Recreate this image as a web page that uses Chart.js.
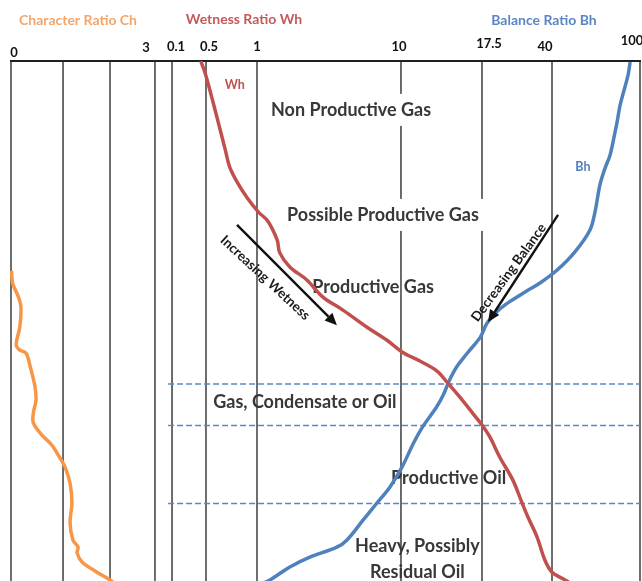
<!DOCTYPE html>
<html>
<head>
<meta charset="utf-8">
<script src="https://cdn.jsdelivr.net/npm/chart.js@4.4.1/dist/chart.umd.min.js"></script>
<style>
  html, body { margin: 0; padding: 0; background: #ffffff; }
  canvas { display: block; }
</style>
</head>
<body>
<canvas id="ratios" width="642" height="581"></canvas>
<script>
// ---- Track scales -------------------------------------------------------
// Character ratio (Ch) guide values and the labels printed above them
const chTicks = [0, 1, 2, 3];
const chTickLabels = ['0', '', '', '3'];
// Wetness (Wh) and balance (Bh) ratios share one logarithmic-style track
const ratioTicks = [0.1, 0.5, 1, 10, 17.5, 40, 100];
const ratioTickLabels = ['0.1', '0.5', '1', '10', '17.5', '40', '100'];

// ---- Log curves (depth 0 = top of interval, 100 = bottom) ---------------
const chDepth  = [40.3, 42.7, 45.3, 47.3, 51.1, 54.6, 55.6, 56.2, 58.8, 62.6, 65.2, 67.7, 69.6, 71.9,
                  73.8, 76.3, 78.0, 81.2, 85.0, 88.8, 92.1, 93.5, 94.6, 96.3, 98.3, 99.8, 101];
const chValues = [0.01, 0.03, 0.14, 0.19, 0.17, 0.10, 0.17, 0.29, 0.37, 0.46, 0.48, 0.43, 0.43, 0.59,
                  0.78, 0.94, 1.04, 1.15, 1.19, 1.15, 1.21, 1.32, 1.30, 1.40, 1.72, 2.0, 2.17];

const whDepth  = [0, 2.3, 6.9, 10.8, 17.1, 20.4, 23.5, 26.2, 29.0, 30.8, 34.4, 36.9, 39.6, 42.1, 45.4,
                  47.9, 51.2, 53.7, 56.0, 57.7, 59.6, 61.9, 64.6, 67.7, 70.0, 72.3, 76.2, 80.6, 85.0,
                  87.7, 91.5, 96.0, 98.3, 99.8, 101];
const whValues = [0.39, 0.48, 0.54, 0.58, 0.65, 0.69, 0.77, 0.87, 1.02, 1.19, 1.38, 1.44, 1.69, 2.22, 2.87,
                  3.95, 5.81, 8.0, 10.1, 11.4, 12.8, 13.8, 15.0, 16.4, 17.5, 19.2, 21.6, 25.2, 28.1,
                  30.1, 33.5, 36.8, 40, 45.8, 50.8];

const bhDepth  = [0.2, 2.7, 8.5, 11.7, 13.7, 18.1, 20.6, 23.8, 29.0, 32.5, 36.7, 40.2, 42.7, 44.2, 46.0,
                  47.7, 50.4, 53.1, 56.2, 58.8, 61.3, 64.2, 66.5, 70.4, 73.5, 78.1, 81.9, 85.0, 88.3,
                  92.1, 93.5, 95.4, 97.3, 99.8, 100.8];
const bhValues = [90.2, 88.3, 81.3, 78.8, 77.1, 73.2, 69.5, 65.9, 62.6, 59.4, 50.8, 42.2, 34.7, 29.8, 24.9,
                  21.6, 18.6, 17.3, 15.8, 14.7, 14.0, 13.4, 12.8, 11.6, 10.9, 10.07, 8.39, 6.81, 5.45,
                  4.22, 3.59, 2.33, 1.69, 1.23, 1.02];

// Depths of the fluid-zone boundaries (dashed)
const zoneBounds = [62.1, 70.1, 85.1];

// ---- A scale whose guide values sit at chosen fractions of the track ----
class KnotScale extends Chart.Scale {
  determineDataLimits() {
    const k = this.options.knots;
    this.min = k[0].v;
    this.max = k[k.length - 1].v;
  }
  buildTicks() { return this.options.knots.map(k => ({ value: k.v })); }
  getLabelForValue(v) { return String(v); }
  unit(v) { return this.options.log ? Math.log10(v) : v; }
  getPixelForValue(v) {
    const k = this.options.knots, u = this.unit(v);
    let i = 0;
    while (i < k.length - 2 && u > this.unit(k[i + 1].v)) i++;
    const a = k[i], b = k[i + 1];
    const t = (u - this.unit(a.v)) / (this.unit(b.v) - this.unit(a.v));
    return this.getPixelForDecimal(a.at + t * (b.at - a.at));
  }
  getPixelForTick(i) { return this.getPixelForValue(this.ticks[i].value); }
  getValueForPixel(p) {
    const k = this.options.knots, d = this.getDecimalForPixel(p);
    let i = 0;
    while (i < k.length - 2 && d > k[i + 1].at) i++;
    const a = k[i], b = k[i + 1];
    const u = this.unit(a.v) + (d - a.at) / (b.at - a.at) * (this.unit(b.v) - this.unit(a.v));
    return this.options.log ? Math.pow(10, u) : u;
  }
}
KnotScale.id = 'knot';
KnotScale.defaults = {};
Chart.register(KnotScale);

const FONT = 'Lato, "Open Sans", "DejaVu Sans", sans-serif';
const ORANGE = '#f79646', RED = '#c0504d', BLUE = '#4f81bd';

// ---- Guides, labels and annotations ----------------------------------
function arrow(ctx, x1, y1, x2, y2) {
  const ang = Math.atan2(y2 - y1, x2 - x1), head = 12, half = 5.5;
  const bx = x2 - head * Math.cos(ang), by = y2 - head * Math.sin(ang);
  ctx.beginPath(); ctx.moveTo(x1, y1); ctx.lineTo(bx, by); ctx.stroke();
  ctx.beginPath();
  ctx.moveTo(x2, y2);
  ctx.lineTo(bx + half * Math.sin(ang), by - half * Math.cos(ang));
  ctx.lineTo(bx - half * Math.sin(ang), by + half * Math.cos(ang));
  ctx.closePath(); ctx.fill();
}

const trackPlugin = {
  id: 'tracks',
  beforeDatasetsDraw(chart, args, o) {
    const { ctx, chartArea: a, scales } = chart;
    const xr = scales.ratio, xc = scales.ch, y = scales.depth;
    ctx.save();

    // vertical guides
    ctx.strokeStyle = '#1f1f1f';
    ctx.lineWidth = 1.3;
    [[xc, chTicks], [xr, ratioTicks]].forEach(([s, vals]) => {
      vals.forEach(v => {
        const px = s.getPixelForValue(v);
        ctx.beginPath(); ctx.moveTo(px, a.top); ctx.lineTo(px, a.bottom); ctx.stroke();
      });
    });
    // top border
    ctx.lineWidth = 2;
    ctx.beginPath(); ctx.moveTo(a.left - 1, a.top); ctx.lineTo(a.right + 1, a.top); ctx.stroke();

    // tick labels
    ctx.fillStyle = '#111';
    ctx.font = 'bold 13px ' + FONT;
    ctx.textAlign = 'center';
    ctx.textBaseline = 'middle';
    chTicks.forEach((v, i) => {
      const [dx, dy] = o.chShift[i];
      ctx.fillText(chTickLabels[i], xc.getPixelForValue(v) + dx, o.tickY + dy);
    });
    ratioTicks.forEach((v, i) => {
      const [dx, dy] = o.ratioShift[i];
      ctx.fillText(ratioTickLabels[i], xr.getPixelForValue(v) + dx, o.tickY + dy);
    });

    // track titles
    ctx.font = 'bold 14px ' + FONT;
    o.titles.forEach(t => { ctx.fillStyle = t.color; ctx.fillText(t.text, t.x, t.y); });

    // zone names
    ctx.font = 'bold 18px ' + FONT;
    o.zones.forEach(z => {
      const cx = xr.getPixelForValue(z.x), cy = y.getPixelForValue(z.y);
      const lines = z.text;
      if (z.bg) {
        const w = Math.max(...lines.map(l => ctx.measureText(l).width));
        ctx.fillStyle = '#ffffff';
        ctx.fillRect(cx - w / 2 - 6, cy - 16, w + 12, 32);
      }
      ctx.fillStyle = '#383838';
      lines.forEach((l, i) => ctx.fillText(l, cx, cy + (i - (lines.length - 1) / 2) * 26));
    });

    // curve names
    ctx.font = 'bold 12.5px ' + FONT;
    o.curveNames.forEach(c => {
      ctx.fillStyle = c.color;
      ctx.fillText(c.text, xr.getPixelForValue(c.x), y.getPixelForValue(c.y));
    });

    // trend captions
    ctx.font = 'bold 13.5px ' + FONT;
    ctx.fillStyle = '#1a1a1a';
    o.captions.forEach(c => {
      ctx.save();
      ctx.translate(xr.getPixelForValue(c.x), y.getPixelForValue(c.y));
      ctx.rotate(c.angle * Math.PI / 180);
      ctx.fillText(c.text, 0, 0);
      ctx.restore();
    });
    ctx.restore();
  },
  afterDatasetsDraw(chart, args, o) {
    const { ctx, scales } = chart;
    const xr = scales.ratio, y = scales.depth;
    ctx.save();
    ctx.strokeStyle = '#111'; ctx.fillStyle = '#111'; ctx.lineWidth = 2.4;
    o.arrows.forEach(r => arrow(ctx,
      xr.getPixelForValue(r.from[0]), y.getPixelForValue(r.from[1]),
      xr.getPixelForValue(r.to[0]), y.getPixelForValue(r.to[1])));
    ctx.restore();
  }
};

const curve = (vals, depth) => depth.map((d, i) => ({ x: vals[i], y: d }));

const datasets = [
  { label: 'Wh', data: curve(whValues, whDepth), xAxisID: 'ratio', yAxisID: 'depth',
    borderColor: RED, borderWidth: 3.5, tension: 0.35, pointRadius: 0 },
  { label: 'Bh', data: curve(bhValues, bhDepth), xAxisID: 'ratio', yAxisID: 'depth',
    borderColor: BLUE, borderWidth: 3.5, tension: 0.35, pointRadius: 0 },
  { label: 'Ch', data: curve(chValues, chDepth), xAxisID: 'ch', yAxisID: 'depth',
    borderColor: ORANGE, borderWidth: 3.5, tension: 0.35, pointRadius: 0 },
  ...zoneBounds.map(d => ({
    label: 'zone boundary', data: [{ x: 0.083, y: d }, { x: 100, y: d }],
    xAxisID: 'ratio', yAxisID: 'depth', borderColor: '#5b86c0', borderWidth: 1.5,
    borderDash: [6, 3], pointRadius: 0
  }))
];

new Chart(document.getElementById('ratios'), {
  type: 'line',
  data: { datasets },
  options: {
    responsive: false,
    animation: false,
    events: [],
    layout: { padding: { left: 11, top: 61, right: 2, bottom: 0 } },
    scales: {
      ch: {
        type: 'knot', axis: 'x', position: 'top', display: false, log: false,
        knots: [{ v: 0, at: 0 }, { v: 1, at: 0.0827 }, { v: 2, at: 0.1574 }, { v: 3, at: 0.2289 }]
      },
      ratio: {
        type: 'knot', axis: 'x', position: 'top', display: false, log: true,
        knots: [{ v: 0.1, at: 0.2560 }, { v: 0.5, at: 0.3100 }, { v: 1, at: 0.3911 }, { v: 10, at: 0.6200 },
                { v: 17.5, at: 0.7488 }, { v: 40, at: 0.8601 }, { v: 100, at: 1 }]
      },
      depth: { type: 'linear', axis: 'y', min: 0, max: 100, reverse: true, display: false }
    },
    plugins: {
      legend: { display: false },
      tooltip: { enabled: false },
      tracks: {
        tickY: 47,
        chShift: [[3, 6], [0, 0], [0, 0], [-9, 1]],
        ratioShift: [[4, 0], [3, 0], [0, 0], [-2, 0], [7, -3], [-7, 0], [-8, -6]],
        titles: [
          { text: 'Character Ratio Ch', color: '#f3a66c', x: 78, y: 20 },
          { text: 'Wetness Ratio Wh', color: '#c4585a', x: 244, y: 19 },
          { text: 'Balance Ratio Bh', color: '#5b86c3', x: 544, y: 20 }
        ],
        zones: [
          { text: ['Non Productive Gas'], x: 4.5, y: 9.4, bg: true },
          { text: ['Possible Productive Gas'], x: 7.5, y: 29.6, bg: true },
          { text: ['Productive Gas'], x: 6.4, y: 43.5 },
          { text: ['Gas, Condensate or Oil'], x: 2.15, y: 65.6 },
          { text: ['Productive Oil'], x: 13.9, y: 80.2 },
          { text: ['Heavy, Possibly', 'Residual Oil'], x: 11.2, y: 95.8 }
        ],
        curveNames: [
          { text: 'Wh', color: RED, x: 0.74, y: 4.6 },
          { text: 'Bh', color: BLUE, x: 55.2, y: 20.4 }
        ],
        captions: [
          { text: 'Increasing Wetness', x: 1.14, y: 41.7, angle: 43 },
          { text: 'Decreasing Balance', x: 24.0, y: 40.7, angle: -54 }
        ],
        arrows: [
          { from: [0.762, 31.5], to: [3.59, 50.8] },
          { from: [42.6, 29.6], to: [18.8, 50.2] }
        ]
      }
    }
  },
  plugins: [trackPlugin]
});
</script>
</body>
</html>
